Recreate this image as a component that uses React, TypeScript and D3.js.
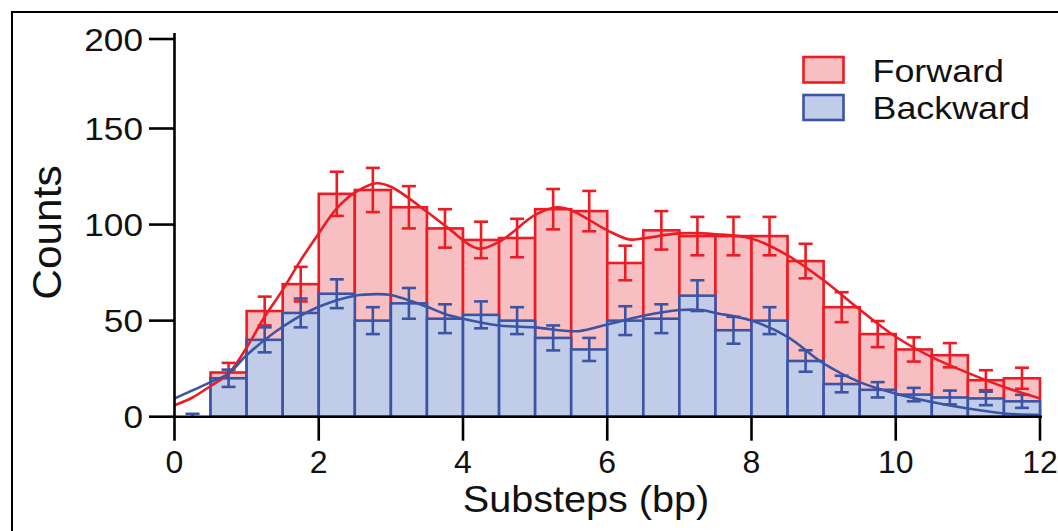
import React from "react";
import * as d3 from "d3";

// ---- Data (24 bins of 0.5 bp from 0 to 12) ----
const binStarts = [0, 0.5, 1, 1.5, 2, 2.5, 3, 3.5, 4, 4.5, 5, 5.5, 6, 6.5, 7, 7.5, 8, 8.5, 9, 9.5, 10, 10.5, 11, 11.5];
const binWidth = 0.5;
const forwardCounts = [0, 23, 55, 69, 116, 118, 109, 98, 92, 93, 108, 107, 80, 97, 94, 94, 94, 81, 57, 43, 35, 32, 19, 20];
const forwardErr = [0, 5, 7.5, 9, 11.5, 11.5, 11, 10, 9.5, 10, 10.5, 10.5, 9, 10, 10, 10, 10, 9, 7.8, 6.8, 6.3, 6.3, 5.2, 5.5];
const backwardCounts = [0, 20, 40, 54, 64, 50, 59, 51, 53, 50, 41, 35, 50, 51, 63, 45, 50, 29, 17, 14, 11.5, 10, 9.5, 8];
const backwardErr = [1.5, 4.5, 6.5, 7.5, 7.5, 7, 8, 7.5, 7, 7, 6.5, 6, 7.5, 7.5, 8, 7, 7, 5.6, 4.3, 4, 3.5, 3.6, 3.5, 3.4];

// fitted curves
const forwardFitX = [0, 0.25, 0.5, 0.75, 1, 1.25, 1.5, 1.75, 2, 2.25, 2.5, 2.8, 3, 3.5, 3.8, 4.2, 4.5, 5, 5.3, 5.5, 6, 6.3, 6.5, 7, 7.5, 8, 8.5, 9, 9.5, 10, 10.5, 11, 11.5, 12];
const forwardFitY = [6, 10, 16, 22.5, 36, 52, 66, 81.5, 95.4, 108.4, 116.6, 121.5, 119.7, 106.7, 98, 87.6, 91, 105, 109, 107.5, 97, 92.3, 92.8, 95.4, 95, 92.8, 84, 71, 55.8, 41.6, 31, 22.8, 15.5, 9.5];
const backwardFitX = [0, 0.5, 0.75, 1, 1.5, 2, 2.5, 2.8, 3, 3.5, 3.75, 4, 4.5, 5, 5.6, 6, 6.5, 7, 7.3, 7.5, 8, 8.5, 9, 9.5, 10, 10.5, 11, 11.5, 12];
const backwardFitY = [9.5, 18, 22.5, 32, 46.8, 57.2, 63, 63.8, 63.3, 57.2, 53.5, 51, 47.5, 46.5, 44.5, 48, 52.5, 55.5, 55.5, 54, 50, 41.6, 27.7, 18, 12, 7.7, 4.3, 1.7, 1];

const xTicks = [0, 2, 4, 6, 8, 10, 12];
const yTicks = [0, 50, 100, 150, 200];
const legendLabels = ["Forward", "Backward"];

const RED = "#ED1C24";
const PINK = "#F7BFC2";
const BLUE = "#3B54A4";
const LIGHTBLUE = "#C1CCE8";
const FONT = "'Liberation Sans', Arial, Helvetica, sans-serif";

export default function App() {
  const x = d3.scaleLinear().domain([0, 12]).range([174.5, 1040]);
  const y = d3.scaleLinear().domain([0, 150, 200]).range([416.7, 128.5, 39]);

  const line = d3
    .line<[number, number]>()
    .x((d) => x(d[0]))
    .y((d) => y(d[1]))
    .curve(d3.curveCatmullRom.alpha(0.5));

  const fwdPts = forwardFitX.map((v, i) => [v, forwardFitY[i]] as [number, number]);
  const bwdPts = backwardFitX.map((v, i) => [v, backwardFitY[i]] as [number, number]);

  const capHalf = 7;
  const sw = 2.6;

  const bars = (vals: number[], stroke: string, fill: string) =>
    vals.map((v, i) =>
      v > 0 ? (
        <rect
          key={i}
          x={x(binStarts[i])}
          y={y(v)}
          width={x(binStarts[i] + binWidth) - x(binStarts[i])}
          height={y(0) - y(v)}
          fill={fill}
          stroke={stroke}
          strokeWidth={sw}
        />
      ) : null
    );

  const errs = (vals: number[], er: number[], stroke: string) =>
    vals.map((v, i) => {
      if (er[i] <= 0) return null;
      const cx = x(binStarts[i] + binWidth / 2);
      const hi = v + er[i];
      const lo = Math.max(0, v - er[i]);
      return (
        <g key={i} stroke={stroke} strokeWidth={sw}>
          <line x1={cx} x2={cx} y1={y(hi)} y2={y(lo)} />
          <line x1={cx - capHalf} x2={cx + capHalf} y1={y(hi)} y2={y(hi)} />
          {v - er[i] > 0 && <line x1={cx - capHalf} x2={cx + capHalf} y1={y(lo)} y2={y(lo)} />}
        </g>
      );
    });

  return (
    <svg
      width={1058}
      height={531}
      style={{ position: "absolute", left: 0, top: 0, display: "block", background: "#fff" }}
      fontFamily={FONT}
    >
      <rect x={0} y={0} width={1058} height={531} fill="#fff" />
      {/* frame */}
      <path d="M12,531 V12 H1058" fill="none" stroke="#000" strokeWidth={2} />

      {/* forward bars and error bars */}
      <g>{bars(forwardCounts, RED, PINK)}</g>
      <g>{errs(forwardCounts, forwardErr, RED)}</g>
      {/* backward bars and error bars */}
      <g>{bars(backwardCounts, BLUE, LIGHTBLUE)}</g>
      <g>{errs(backwardCounts, backwardErr, BLUE)}</g>

      {/* fit curves */}
      <path d={line(fwdPts) || ""} fill="none" stroke={RED} strokeWidth={2.6} />
      <path d={line(bwdPts) || ""} fill="none" stroke={BLUE} strokeWidth={2.6} />

      {/* axes */}
      <g stroke="#000" strokeWidth={2.6}>
        <line x1={x(0)} x2={x(0)} y1={y(200) - 6} y2={y(0) + 1.3} />
        <line x1={x(0)} x2={x(12) + 2} y1={y(0)} y2={y(0)} />
        {yTicks.map((t) => (
          <line key={"yt" + t} x1={x(0) - 25.5} x2={x(0)} y1={y(t)} y2={y(t)} />
        ))}
        {xTicks.map((t) => (
          <line key={"xt" + t} x1={x(t)} x2={x(t)} y1={y(0)} y2={y(0) + 24} />
        ))}
      </g>
      <g fontSize={32} fill="#111">
        {yTicks.map((t) => (
          <text key={"yl" + t} transform={`translate(143,${y(t) + 11.5}) scale(1.1,1)`} textAnchor="end">
            {t}
          </text>
        ))}
        {xTicks.map((t) => (
          <text key={"xl" + t} transform={`translate(${x(t)},473) scale(1.0,1)`} textAnchor="middle">
            {t}
          </text>
        ))}
      </g>
      <text transform="translate(586,512) scale(1.07,1)" textAnchor="middle" fontSize={37} fill="#111">
        Substeps (bp)
      </text>
      <text transform="translate(61,232.5) rotate(-90) scale(1.06,1)" textAnchor="middle" fontSize={40} fill="#111">
        Counts
      </text>

      {/* legend */}
      <rect x={803.5} y={57} width={40} height={25.5} fill={PINK} stroke={RED} strokeWidth={2.6} />
      <rect x={803.5} y={95} width={40} height={25} fill={LIGHTBLUE} stroke={BLUE} strokeWidth={2.6} />
      <g fontSize={32} fill="#111">
        <text transform="translate(872.5,82) scale(1.12,1)">{legendLabels[0]}</text>
        <text transform="translate(872.5,119) scale(1.12,1)">{legendLabels[1]}</text>
      </g>
    </svg>
  );
}
